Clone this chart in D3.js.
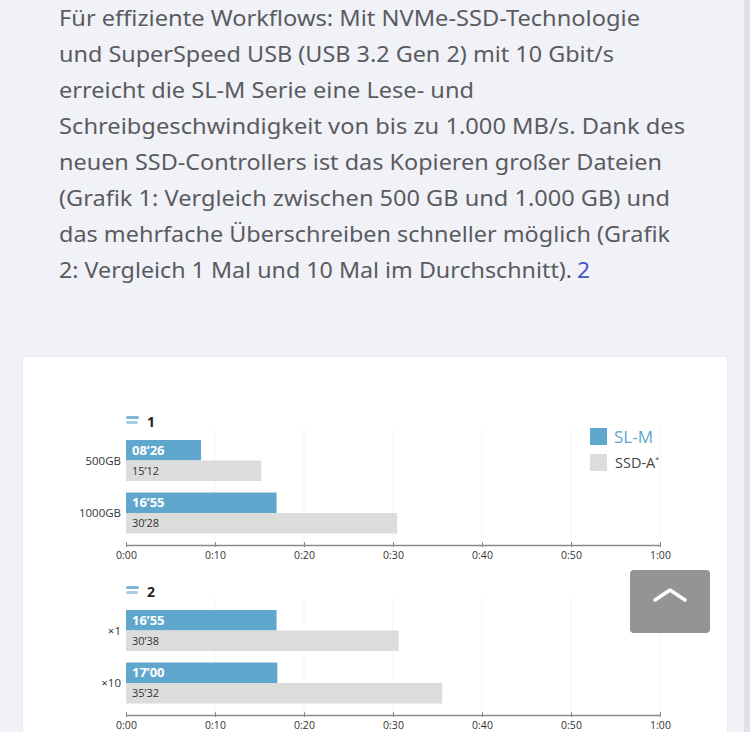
<!DOCTYPE html>
<html><head><meta charset="utf-8">
<script src="https://cdn.jsdelivr.net/npm/d3@7"></script>
<style>html,body{margin:0;padding:0;background:#f0f2f8;overflow:hidden}svg{display:block}</style>
</head><body>
<svg id="c" width="750" height="732"></svg>
<script>
// ---- data ----
const paragraphLines = [
  "Für effiziente Workflows: Mit NVMe-SSD-Technologie",
  "und SuperSpeed USB (USB 3.2 Gen 2) mit 10 Gbit/s",
  "erreicht die SL-M Serie eine Lese- und",
  "Schreibgeschwindigkeit von bis zu 1.000 MB/s. Dank des",
  "neuen SSD-Controllers ist das Kopieren großer Dateien",
  "(Grafik 1: Vergleich zwischen 500 GB und 1.000 GB) und",
  "das mehrfache Überschreiben schneller möglich (Grafik",
  "2: Vergleich 1 Mal und 10 Mal im Durchschnitt)."
];
const paragraphFootnote = "2";
const seriesNames = ["SL-M", "SSD-A*"];
const chart1Categories = ["500GB", "1000GB"];
const chart1SLM = ["08’26", "16’55"];
const chart1SSD = ["15’12", "30’28"];
const chart2Categories = ["×1", "×10"];
const chart2SLM = ["16’55", "17’00"];
const chart2SSD = ["30’38", "35’32"];
const tickValues = [0, 10, 20, 30, 40, 50, 60];
const tickLabels = ["0:00", "0:10", "0:20", "0:30", "0:40", "0:50", "1:00"];

// ---- helpers ----
const toMin = s => { const [m, sec] = s.split("’").map(Number); return m + sec / 60; };
const BLUE = "#5fa7cd", GREY = "#dcdcdc";
const svg = d3.select("#c");

// page background
svg.append("rect").attr("width", 750).attr("height", 732).attr("fill", "#f0f2f8");
svg.append("rect").attr("x", 744).attr("y", 0).attr("width", 6).attr("height", 732).attr("fill", "#dfe1e7");

// paragraph
const lineEnds = [640, 614, 474, 685, 662, 670, 670, 572];
const para = svg.append("g").attr("font-family", "'Noto Sans', sans-serif").attr("font-size", 22).attr("fill", "#5b5b5f");
paragraphLines.forEach((t, i) => {
  para.append("text").attr("x", 59).attr("y", 26 + i * 36)
    .attr("textLength", lineEnds[i] - 59).attr("lengthAdjust", "spacingAndGlyphs").text(t);
});
para.append("text").attr("x", 577).attr("y", 26 + 7 * 36).attr("fill", "#4a55c9")
  .attr("textLength", 13).attr("lengthAdjust", "spacingAndGlyphs").text(paragraphFootnote);

// card
svg.append("rect").attr("x", 22).attr("y", 356).attr("width", 706).attr("height", 400).attr("fill", "#e9ebf3");
svg.append("rect").attr("x", 23).attr("y", 357).attr("width", 704).attr("height", 400).attr("fill", "#ffffff");

const x = d3.scaleLinear().domain([0, 60]).range([126, 660]);

function drawChart(num, cats, slm, ssd, top, axisY) {
  const g = svg.append("g").attr("font-family", "'Open Sans', sans-serif");
  // gridlines
  g.selectAll("line.grid").data(tickValues.slice(1)).join("line")
    .attr("x1", d => x(d)).attr("x2", d => x(d)).attr("y1", top - 12).attr("y2", axisY)
    .attr("stroke", "#f4f5f7").attr("stroke-width", 1);
  // title icon + number
  g.append("rect").attr("x", 126).attr("y", top - 24).attr("width", 13).attr("height", 3).attr("rx", 1.5).attr("fill", "#7fb6d6");
  g.append("rect").attr("x", 126).attr("y", top - 19).attr("width", 12).attr("height", 3).attr("rx", 1.5).attr("fill", "#a9cde2");
  g.append("text").attr("x", 147).attr("y", top - 13).attr("font-size", 14).attr("font-weight", 700).attr("fill", "#222").text(num);

  const y = d3.scaleBand().domain(cats).range([top, top + 93.5]).paddingInner(0.22);
  const ys = d3.scaleBand().domain(seriesNames).range([0, y.bandwidth()]);
  const rows = cats.map((c, i) => ({ c, vals: [slm[i], ssd[i]] }));
  const grp = g.selectAll("g.row").data(rows).join("g").attr("transform", d => `translate(0,${y(d.c)})`);
  grp.selectAll("rect").data(d => d.vals.map((v, j) => ({ v, s: seriesNames[j] }))).join("rect")
    .attr("x", x(0)).attr("y", d => ys(d.s)).attr("width", d => x(toMin(d.v)) - x(0)).attr("height", ys.bandwidth())
    .attr("fill", d => d.s === seriesNames[0] ? BLUE : GREY);
  grp.selectAll("text.v").data(d => d.vals.map((v, j) => ({ v, s: seriesNames[j] }))).join("text")
    .attr("x", 132).attr("y", d => ys(d.s) + ys.bandwidth() / 2)
    .attr("dy", "0.36em")
    .attr("font-size", d => d.s === seriesNames[0] ? 13 : 11)
    .attr("font-weight", d => d.s === seriesNames[0] ? 700 : 400)
    .attr("fill", d => d.s === seriesNames[0] ? "#ffffff" : "#333")
    .text(d => d.v);
  grp.append("text").attr("x", 121).attr("y", y.bandwidth() / 2).attr("dy", "0.36em")
    .attr("text-anchor", "end").attr("font-size", 11.5).attr("fill", "#333").text(d => d.c);

  // axis
  const ax = g.append("g").attr("transform", `translate(0,${axisY})`)
    .call(d3.axisBottom(x).tickValues(tickValues).tickFormat((d, i) => tickLabels[i]).tickSize(3).tickSizeOuter(0));
  ax.select(".domain").attr("stroke", "#8a8a8a").attr("stroke-width", 1.5);
  ax.selectAll(".tick line").attr("stroke", "#8a8a8a").attr("y1", -3).attr("y2", 2);
  ax.selectAll(".tick text").attr("font-family", "'Open Sans', sans-serif").attr("font-size", 10.5).attr("fill", "#333").attr("y", 7).attr("dy", "0.71em");
}

drawChart("1", chart1Categories, chart1SLM, chart1SSD, 440, 545);
drawChart("2", chart2Categories, chart2SLM, chart2SSD, 610, 715);

// legend
const leg = svg.append("g").attr("font-family", "'Open Sans', sans-serif");
seriesNames.forEach((s, i) => {
  leg.append("rect").attr("x", 590).attr("y", 428 + i * 26).attr("width", 17).attr("height", 17).attr("fill", i === 0 ? BLUE : GREY);
});
leg.append("text").attr("x", 614).attr("y", 443).attr("font-size", 17).attr("fill", BLUE).text(seriesNames[0]);
const t2 = leg.append("text").attr("x", 615).attr("y", 468).attr("fill", "#444").attr("font-size", 14.5);
t2.append("tspan").text(seriesNames[1].replace("*", ""));
t2.append("tspan").attr("font-size", 7).attr("dy", -6).text("*");

// scroll-to-top button
svg.append("rect").attr("x", 630).attr("y", 570).attr("width", 80).attr("height", 63).attr("rx", 4).attr("fill", "#949494");
svg.append("path").attr("d", "M655,600 L670,590 L685,600").attr("fill", "none").attr("stroke", "#fff").attr("stroke-width", 3.5).attr("stroke-linecap", "round").attr("stroke-linejoin", "round");
</script>
</body></html>
